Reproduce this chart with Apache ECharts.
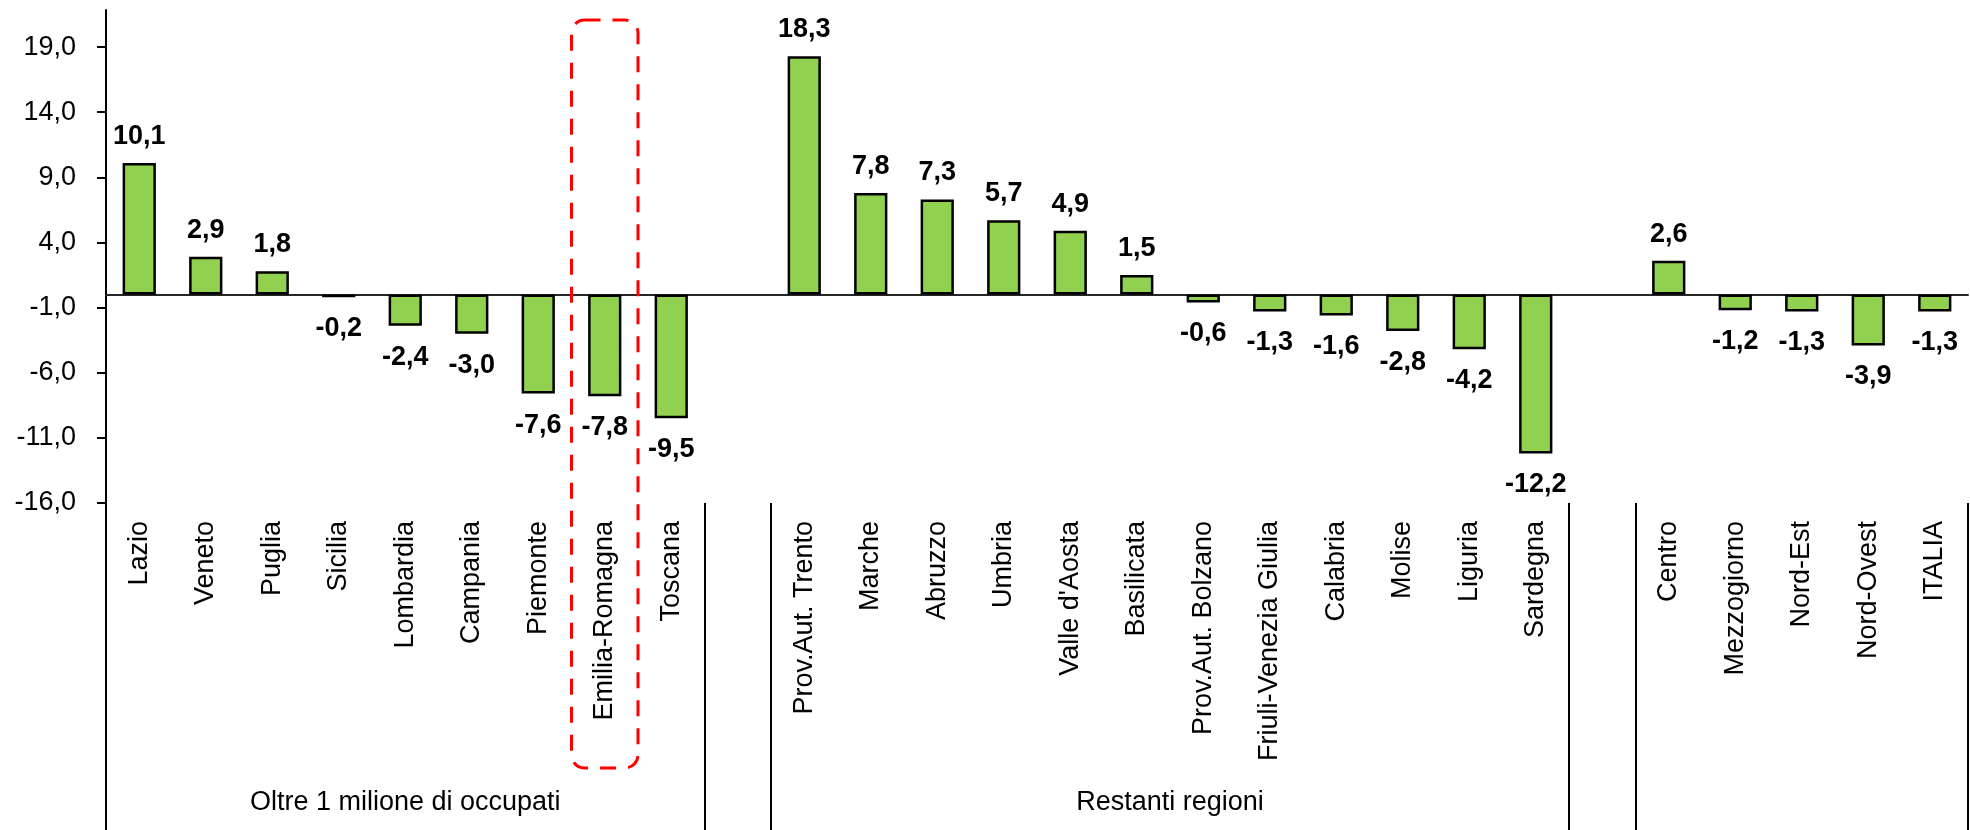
<!DOCTYPE html>
<html>
<head>
<meta charset="utf-8">
<script src="https://cdn.jsdelivr.net/npm/echarts@6/dist/echarts.min.js"></script>
<style>
  html, body { margin: 0; padding: 0; background: #fff; }
  #main { width: 1970px; height: 830px; }
</style>
</head>
<body>
<div id="main"></div>
<script>
var myChart = echarts.init(document.getElementById('main'));

// gruppi di regioni
let bigRegions = ['Lazio', 'Veneto', 'Puglia', 'Sicilia', 'Lombardia', 'Campania', 'Piemonte', 'Emilia-Romagna', 'Toscana'];
let bigValues = [10.1, 2.9, 1.8, -0.2, -2.4, -3.0, -7.6, -7.8, -9.5];

let otherRegions = ['Prov.Aut. Trento', 'Marche', 'Abruzzo', 'Umbria', "Valle d'Aosta", 'Basilicata', 'Prov.Aut. Bolzano', 'Friuli-Venezia Giulia', 'Calabria', 'Molise', 'Liguria', 'Sardegna'];
let otherValues = [18.3, 7.8, 7.3, 5.7, 4.9, 1.5, -0.6, -1.3, -1.6, -2.8, -4.2, -12.2];

let areas = ['Centro', 'Mezzogiorno', 'Nord-Est', 'Nord-Ovest', 'ITALIA'];
let areaValues = [2.6, -1.2, -1.3, -3.9, -1.3];

let groupNames = ['Oltre 1 milione di occupati', 'Restanti regioni', ''];
let yTicks = [-16, -11, -6, -1, 4, 9, 14, 19];
let highlighted = 'Emilia-Romagna';

let font = 'Liberation Sans, Arial, sans-serif';
let fmt = function(v) {
    return Number(v).toFixed(1).replace('.', ',');
};

// categorie con una colonna vuota tra i gruppi
let groups = [
    {names: bigRegions, values: bigValues},
    {names: otherRegions, values: otherValues},
    {names: areas, values: areaValues}
];
let categories = [];
let values = [];
let boundaries = [];
let groupCenters = [];
groups.forEach(function(g, i) {
    if (i > 0) {
        boundaries.push(categories.length);
        categories.push(i === 1 ? '' : ' ');
        values.push(null);
    }
    let start = categories.length;
    boundaries.push(start);
    groupCenters.push(start + g.names.length / 2);
    g.names.forEach(function(n, j) {
        categories.push(n);
        values.push(g.values[j]);
    });
});

let barData = values.map(function(v) {
    if (v === null) return '-';
    return {
        value: v,
        label: {
            position: v >= 0 ? 'top' : 'bottom',
            distance: v >= 0 ? 13 : 18
        }
    };
});

option = {
    backgroundColor: '#fff',
    animation: false,
    grid: {
        left: 106,
        right: 2,
        top: 10,
        bottom: 327,
        containLabel: false
    },
    xAxis: [
        {
            type: 'category',
            data: categories,
            axisLine: {
                onZero: true,
                lineStyle: {color: '#262626', width: 2}
            },
            axisTick: {show: false},
            axisLabel: {show: false},
            splitLine: {show: false}
        },
        {
            type: 'category',
            data: categories,
            position: 'bottom',
            axisLine: {show: false, onZero: false},
            axisTick: {
                show: true,
                length: 327,
                interval: function(idx) {
                    return boundaries.indexOf(idx) >= 0;
                },
                lineStyle: {color: '#000', width: 2}
            },
            axisLabel: {
                interval: 0,
                rotate: 90,
                margin: 18,
                color: '#000',
                fontFamily: font,
                fontSize: 27
            },
            splitLine: {show: false}
        },
        {
            type: 'value',
            min: 0,
            max: categories.length,
            position: 'bottom',
            offset: 278,
            axisLine: {show: false, onZero: false},
            axisTick: {show: false},
            splitLine: {show: false},
            axisLabel: {
                customValues: groupCenters,
                margin: 8,
                color: '#000',
                fontFamily: font,
                fontSize: 27,
                formatter: function(v) {
                    let i = groupCenters.indexOf(v);
                    return i >= 0 ? groupNames[i] : '';
                }
            }
        }
    ],
    yAxis: {
        type: 'value',
        min: -16,
        max: 21.85,
        axisLine: {
            show: true,
            onZero: false,
            lineStyle: {color: '#000', width: 2}
        },
        axisTick: {
            show: true,
            customValues: yTicks,
            length: 9,
            lineStyle: {color: '#000', width: 2}
        },
        axisLabel: {
            customValues: yTicks,
            margin: 30,
            color: '#000',
            fontFamily: font,
            fontSize: 27,
            formatter: fmt
        },
        splitLine: {show: false}
    },
    series: [
        {
            type: 'bar',
            xAxisIndex: 0,
            data: barData,
            barWidth: '50%',
            itemStyle: {
                color: '#92D050',
                borderColor: '#000',
                borderWidth: 2.5
            },
            label: {
                show: true,
                color: '#000',
                fontFamily: font,
                fontSize: 27,
                fontWeight: 'bold',
                formatter: function(p) {
                    return fmt(p.value);
                }
            }
        }
    ]
};
myChart.setOption(option);

// riquadro tratteggiato attorno alla regione evidenziata
let idx = categories.indexOf(highlighted);
let x0 = myChart.convertToPixel({xAxisIndex: 0}, categories[idx]);
let x1 = myChart.convertToPixel({xAxisIndex: 0}, categories[idx + 1]);
let band = x1 - x0;
myChart.setOption({
    graphic: [{
        type: 'rect',
        shape: {x: x0 - band / 2, y: 20, width: band, height: 748, r: 13},
        style: {
            fill: 'none',
            stroke: '#FF0000',
            lineWidth: 3,
            lineDash: [16, 12]
        },
        z: 10
    }]
});
</script>
</body>
</html>
